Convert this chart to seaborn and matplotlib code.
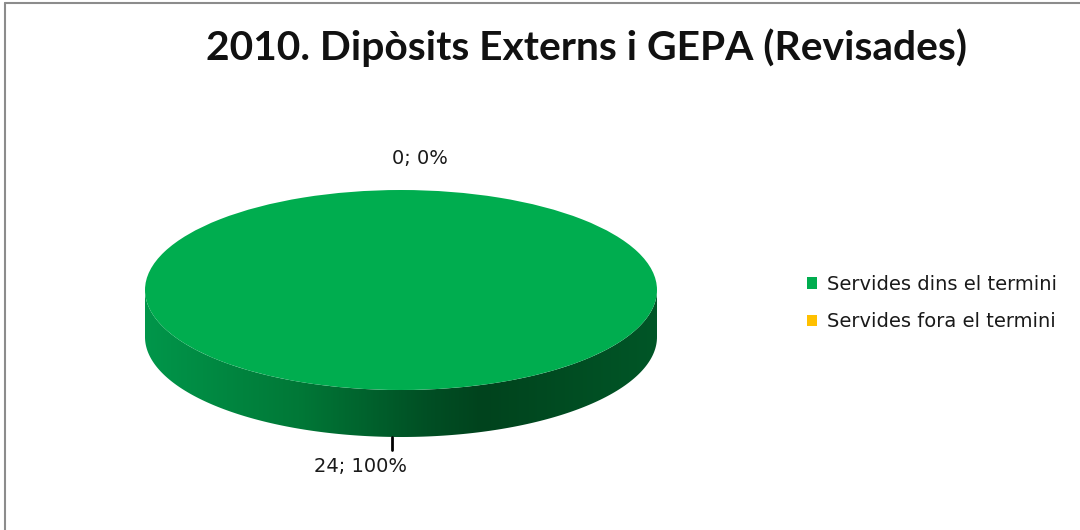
import numpy as np
import seaborn as sns
import matplotlib.pyplot as plt
from matplotlib.colors import LinearSegmentedColormap
from matplotlib.patches import Polygon
from matplotlib.lines import Line2D

title = "2010. Dipòsits Externs i GEPA (Revisades)"
categories = ["Servides dins el termini", "Servides fora el termini"]
values = [24, 0]
colors = ["#00AD4F", "#FFC000"]

sns.set_style("white")
plt.rcParams['font.family'] = ['DejaVu Sans']

fig = plt.figure(figsize=(10.8, 5.3), dpi=100)
ax = fig.add_axes([0, 0, 1, 1])

# top of the pie (Excel starts at 12 o'clock, clockwise)
wedges, _ = ax.pie(values, colors=colors, startangle=90, counterclock=False,
                   radius=1, wedgeprops=dict(linewidth=0))

# side of the 3D disc with a horizontal shading
depth = 0.47
t = np.linspace(np.pi, 2 * np.pi, 200)
pts = np.vstack([np.column_stack([np.cos(t), np.sin(t)]),
                 np.column_stack([np.cos(t[::-1]), np.sin(t[::-1]) - depth])])
side = Polygon(pts, closed=True, facecolor='none', edgecolor='none')
ax.add_patch(side)
side_cmap = LinearSegmentedColormap.from_list(
    'side', [(0, '#00964a'), (0.3, '#007837'), (0.55, '#004f24'),
             (0.66, '#00431d'), (1, '#005627')])
grad = np.linspace(0, 1, 256).reshape(1, -1)
img = ax.imshow(grad, extent=[-1, 1, -1 - depth, 0], aspect='auto',
                cmap=side_cmap, zorder=0)
img.set_clip_path(side)

# data labels
total = sum(values)
ang = 90
for v in values:
    span = 360 * v / total
    mid = np.deg2rad(ang - span / 2)
    ang -= span
    txt = f"{v}; {100 * v / total:.0f}%"
    if np.sin(mid) < 0:
        ax.plot([np.cos(mid) - 0.035, np.cos(mid) - 0.035],
                [-1 - depth, -1.60], color='black', lw=2)
        ax.text(np.cos(mid) - 0.16, -1.77, txt, ha='center', va='center',
                fontsize=14, color='#1a1a1a')
    else:
        ax.text(np.cos(mid) + 0.075, 1.32, txt, ha='center', va='center',
                fontsize=14, color='#1a1a1a')

# map unit ellipse to pixels: centre (401, 290), semi-axes 256 x 100
ax.set_aspect('auto')
ax.set_xlim(-401 / 256, (1080 - 401) / 256)
ax.set_ylim(-240 / 100, 290 / 100)
ax.axis('off')

leg = ax.legend(wedges, categories, loc='center left',
                bbox_to_anchor=(807 / 1080, (530 - 303) / 530),
                bbox_transform=fig.transFigure, frameon=False,
                fontsize=14, handlelength=0.52, handleheight=0.52,
                handletextpad=0.5, labelspacing=0.95, borderpad=0,
                borderaxespad=0)
for txt in leg.get_texts():
    txt.set_color('#1a1a1a')

fig.text(587 / 1080, 1 - 48 / 530, title, ha='center', va='center',
         fontsize=29.3, fontweight='bold', color='#111111',
         family=['Lato', 'DejaVu Sans'])

fig.add_artist(Line2D([5 / 1080, 1], [1 - 2.5 / 530, 1 - 2.5 / 530],
                      transform=fig.transFigure, color='#8c8c8c', lw=1.5))
fig.add_artist(Line2D([5 / 1080, 5 / 1080], [0, 1 - 2.5 / 530],
                      transform=fig.transFigure, color='#8c8c8c', lw=1.5))

fig.savefig('out.png', dpi=100)
